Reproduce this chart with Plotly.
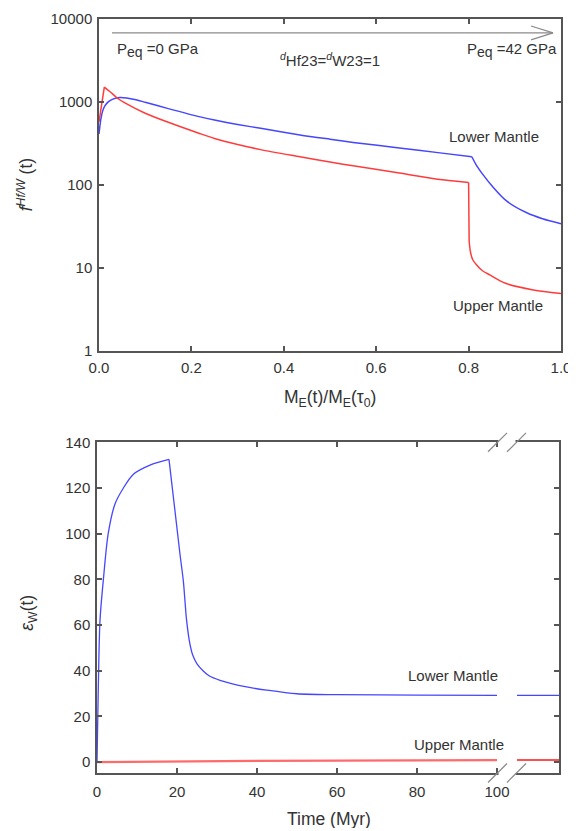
import plotly.graph_objects as go

# ---------------- data ----------------
# Top panel: f^{Hf/W}(t) vs M_E(t)/M_E(tau0)
# Lower mantle (blue): smooth part up to the kink, then the decay after M=0.8
lower_top_x1 = [0.0, 0.004, 0.008, 0.013, 0.02, 0.03, 0.045, 0.06, 0.08, 0.1, 0.15, 0.219,
                0.25, 0.3, 0.35, 0.435, 0.5, 0.55, 0.65, 0.738, 0.807]
lower_top_y1 = [410, 620, 780, 900, 1000, 1080, 1130, 1115, 1060, 990, 830, 660,
                605, 535, 480, 400, 355, 325, 279, 243, 218]
lower_top_x2 = [0.807, 0.817, 0.832, 0.85, 0.882, 0.926, 0.96, 1.0]
lower_top_y2 = [218, 172, 131, 98, 64, 46, 39, 34]

# Upper mantle (red): rise, decay, sudden drop at 0.8, tail
upper_top_x1 = [0.0, 0.0115]
upper_top_y1 = [575, 1510]
upper_top_x2 = [0.0115, 0.02, 0.03, 0.038, 0.06, 0.1, 0.15, 0.219, 0.25, 0.3, 0.35,
                0.435, 0.5, 0.55, 0.65, 0.738, 0.8]
upper_top_y2 = [1510, 1380, 1240, 1130, 946, 731, 568, 414, 363, 307, 266,
                218, 188, 170, 139, 116, 107]
upper_top_x3 = [0.8, 0.8012]
upper_top_y3 = [107, 21]
upper_top_x4 = [0.8012, 0.804, 0.809, 0.817, 0.83, 0.846, 0.88, 0.94, 1.0]
upper_top_y4 = [21, 15.5, 12.5, 10.9, 9.2, 8.2, 6.5, 5.4, 4.9]

# Bottom panel: epsilon_W(t) vs time (Myr); axis broken between 100 and 105
lower_bot_t1 = [0, 0.3, 0.75, 1.6, 2.8, 4.5, 6.6, 9.1, 13.25, 18]
lower_bot_v1 = [0, 30, 62, 80, 100, 113, 120, 126, 130, 132.5]
lower_bot_t2 = [18, 20.75, 21.6, 22.4, 23.2, 24.0, 25.0, 26.5, 28.0, 30.75, 37.4, 42.4,
                50, 60, 80, 100]
lower_bot_v2 = [132.5, 91, 79, 62, 52, 46.5, 43, 40, 37.8, 35.8, 32.9, 31.5,
                29.9, 29.5, 29.3, 29.2]
lower_bot_t3 = [105, 115.5]
lower_bot_v3 = [29.2, 29.2]

upper_bot_t1 = [0, 10, 20, 40, 60, 80, 100]
upper_bot_v1 = [0, 0.2, 0.3, 0.5, 0.6, 0.7, 0.8]
upper_bot_t2 = [105, 115.5]
upper_bot_v2 = [0.9, 0.9]

top_x_ticks = [0.0, 0.2, 0.4, 0.6, 0.8, 1.0]
top_x_text = ["0.0", "0.2", "0.4", "0.6", "0.8", "1.0"]
top_y_ticks = [1, 10, 100, 1000, 10000]
top_y_text = ["1", "10", "100", "1000", "10000"]
bot_x_ticks = [0, 20, 40, 60, 80, 100]
bot_y_ticks = [0, 20, 40, 60, 80, 100, 120, 140]

BLUE = "#4646ff"
RED = "#ff3c3c"
FONT = "Liberation Sans, Arial, sans-serif"
TXT = "#333333"
AX = "#555555"

# ---------------- layout helpers (reference pixel -> paper) ----------------
W, H = 576, 831
OFFX, OFFY = 8, 11          # page offset of the plot div in the browser
L, R, T, B = 97, 561, 16, 773
STRETCH_T, STRETCH_B = 3, 3  # small vertical correction of the plotting area


def px(x):
    return (x - L) / (R - L)


def py(y):
    return (B - y) / (B - T)


fig = go.Figure()


def line(x, y, color, width, ax="x", ay="y", shape="spline"):
    fig.add_trace(go.Scatter(x=x, y=y, mode="lines",
                             line=dict(color=color, width=width, shape=shape,
                                       smoothing=0.8 if shape == "spline" else None),
                             xaxis=ax, yaxis=ay, showlegend=False, hoverinfo="skip"))


line(lower_top_x1, lower_top_y1, BLUE, 1.5)
line(lower_top_x2, lower_top_y2, BLUE, 1.5)
line(upper_top_x1, upper_top_y1, RED, 1.5, shape="linear")
line(upper_top_x2, upper_top_y2, RED, 1.5)
line(upper_top_x3, upper_top_y3, RED, 1.5, shape="linear")
line(upper_top_x4, upper_top_y4, RED, 1.5)

line(upper_bot_t1, upper_bot_v1, "#ff6a6a", 2.2, "x2", "y2", shape="linear")
line(upper_bot_t2, upper_bot_v2, "#ff5050", 2.2, "x2", "y2", shape="linear")
line(lower_bot_t1, lower_bot_v1, BLUE, 1.3, "x2", "y2")
line(lower_bot_t2, lower_bot_v2, BLUE, 1.3, "x2", "y2")
line(lower_bot_t3, lower_bot_v3, BLUE, 1.3, "x2", "y2", shape="linear")

axis_common = dict(showline=True, linecolor=AX, linewidth=1.5, mirror="ticks",
                   ticks="inside", ticklen=5, tickwidth=1.5, tickcolor=AX,
                   showgrid=False, zeroline=False,
                   tickfont=dict(family=FONT, size=15, color=TXT))

fig.update_layout(
    width=W - OFFX, height=H - OFFY,
    margin=dict(l=L - OFFX, r=W - R, t=T - OFFY - STRETCH_T, b=H - B - STRETCH_B),
    paper_bgcolor="white", plot_bgcolor="white",
    font=dict(family=FONT, size=15, color=TXT),
    xaxis=dict(domain=[px(99), 1], range=[0, 1], anchor="y",
               tickvals=top_x_ticks, ticktext=top_x_text, ticklabelstandoff=3,
               **axis_common),
    yaxis=dict(domain=[py(349), 1], type="log", range=[0, 4], anchor="x",
               tickvals=top_y_ticks, ticktext=top_y_text, ticklabelstandoff=2,
               **axis_common),
    xaxis2=dict(domain=[0, px(559)], range=[0, 115.5], anchor="y2",
                tickvals=bot_x_ticks, ticklabelstandoff=4, **axis_common),
    yaxis2=dict(domain=[0, py(441)], range=[-4.8, 140], anchor="x2",
                tickvals=bot_y_ticks, ticklabelstandoff=2, **axis_common),
)

shapes = []
GR = "#8a8a8a"
# pressure arrow (top panel)
shapes.append(dict(type="line", xref="paper", yref="paper", x0=px(112), y0=py(30),
                   x1=px(553), y1=py(30), line=dict(color=GR, width=1.2), layer="above"))
shapes.append(dict(type="line", xref="paper", yref="paper", x0=px(531), y0=py(23),
                   x1=px(553), y1=py(30), line=dict(color=GR, width=1.2), layer="above"))
shapes.append(dict(type="line", xref="paper", yref="paper", x0=px(531), y0=py(37),
                   x1=px(553), y1=py(30), line=dict(color=GR, width=1.2), layer="above"))
# axis break in bottom panel
shapes.append(dict(type="rect", xref="paper", yref="paper", x0=px(498.5), x1=px(515.5),
                   y0=py(776), y1=py(438), fillcolor="white", line=dict(width=0),
                   layer="above"))
for yb in (441, 773):
    for xc in (497.5, 516.5):
        shapes.append(dict(type="line", xref="paper", yref="paper",
                           x0=px(xc - 9.5), y0=py(yb + 9.5), x1=px(xc + 9.5), y1=py(yb - 9.5),
                           line=dict(color=GR, width=1.2), layer="above"))
fig.update_layout(shapes=shapes)

ann = []


def text(x, y, s, xanchor="center", size=15, angle=0):
    ann.append(dict(xref="paper", yref="paper", x=px(x), y=py(y), text=s,
                    showarrow=False, xanchor=xanchor, yanchor="middle",
                    textangle=angle, font=dict(family=FONT, size=size, color=TXT)))


SUBEQ = "<sub><span style='font-size:14px'>eq</span></sub>"
text(115, 47, "P" + SUBEQ + " =0 GPa", xanchor="left")
text(559, 47, "P" + SUBEQ + " =42 GPa", xanchor="right")
text(330, 57, "<sup><i>d</i></sup>Hf23=<sup><i>d</i></sup>W23=1")
text(494, 134, "Lower Mantle")
text(497.5, 304, "Upper Mantle")
text(453, 675, "Lower Mantle")
text(459, 744, "Upper Mantle")
# axis titles
text(330, 397, "M<sub>E</sub>(t)/M<sub>E</sub>(τ<sub>0</sub>)", size=17.5)
text(25, 183, "<i>f</i><sup><i>Hf/W</i></sup> (t)", size=17.5, angle=-90)
text(329, 819, "Time (Myr)", size=17.5)
text(29, 612, "<i>ε</i><sub>W</sub>(t)", size=17.5, angle=-90)
fig.update_layout(annotations=ann)

fig.write_html("out.html")
